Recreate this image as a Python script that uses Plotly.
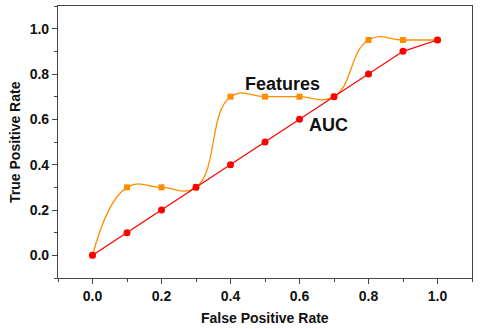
import plotly.graph_objects as go

# ROC data
fpr = [0.0, 0.1, 0.2, 0.3, 0.4, 0.5, 0.6, 0.7, 0.8, 0.9, 1.0]
tpr_features = [0.0, 0.3, 0.3, 0.3, 0.7, 0.7, 0.7, 0.7, 0.95, 0.95, 0.95]
tpr_auc = [0.0, 0.1, 0.2, 0.3, 0.4, 0.5, 0.6, 0.7, 0.8, 0.9, 0.95]

tick_vals = [0.0, 0.2, 0.4, 0.6, 0.8, 1.0]
tick_text = ['0.0', '0.2', '0.4', '0.6', '0.8', '1.0']

FONT = 'Liberation Sans, Arial, sans-serif'

fig = go.Figure()
fig.add_trace(go.Scatter(x=fpr, y=tpr_features, mode='lines+markers', name='Features',
                         line=dict(color='#FF8C00', width=1.3, shape='spline', smoothing=1.3),
                         marker=dict(symbol='square', size=6, color='#FF8C00')))
fig.add_trace(go.Scatter(x=fpr, y=tpr_auc, mode='lines+markers', name='AUC',
                         line=dict(color='#FF0000', width=1.3),
                         marker=dict(symbol='circle', size=7, color='#FF0000')))

fig.add_annotation(x=0.55, y=0.755, text='<b>Features</b>', showarrow=False,
                   font=dict(family=FONT, size=18, color='#111'))
fig.add_annotation(x=0.685, y=0.574, text='<b>AUC</b>', showarrow=False,
                   font=dict(family=FONT, size=18, color='#111'))

# axis titles
fig.add_annotation(xref='paper', yref='paper', x=0.5, y=-0.147, yanchor='middle',
                   text='<b>False Positive Rate</b>', showarrow=False,
                   font=dict(family=FONT, size=14, color='#111'))
fig.add_annotation(xref='paper', yref='paper', x=-0.104, y=0.5, xanchor='center',
                   text='<b>True Positive Rate</b>', showarrow=False, textangle=-90,
                   font=dict(family=FONT, size=14, color='#111'))

axis_common = dict(
    range=[-0.1, 1.1],
    tickvals=tick_vals,
    ticktext=['<b>%s</b>' % t for t in tick_text],
    ticks='outside',
    ticklen=5,
    tickwidth=1,
    tickcolor='#444',
    showline=True,
    linecolor='#444',
    linewidth=1.2,
    mirror=True,
    showgrid=False,
    zeroline=False,
    automargin=False,
    tickfont=dict(family=FONT, size=14, color='#111'),
    minor=dict(ticks='outside', ticklen=3, tickcolor='#444', dtick=0.1, tick0=-0.1),
)

fig.update_xaxes(**axis_common)
fig.update_yaxes(**axis_common)

fig.update_layout(
    width=480,
    height=329,
    margin=dict(l=58, r=8, t=6, b=51),
    plot_bgcolor='white',
    paper_bgcolor='white',
    showlegend=False,
)
fig.write_html("out.html", config={'displayModeBar': False},
               post_script="document.body.style.margin='0';")
